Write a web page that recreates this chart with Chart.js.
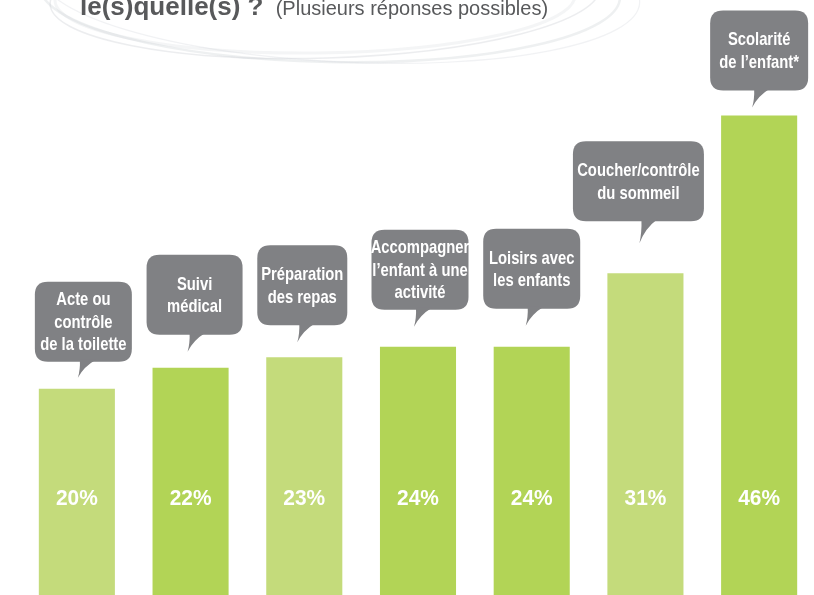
<!DOCTYPE html>
<html><head><meta charset="utf-8">
<script src="https://cdn.jsdelivr.net/npm/chart.js@4"></script>
<style>
html,body{margin:0;padding:0;overflow:hidden;background:#fff;width:814px;height:595px}
#wrap{position:relative;width:816px;height:599px}
</style></head><body><div id="wrap"><canvas id="c"></canvas></div>
<script>
// ---- data ----
const categories = [
  ['Acte ou','contrôle','de la toilette'],
  ['Suivi','médical'],
  ['Préparation','des repas'],
  ['Accompagner','l’enfant à une','activité'],
  ['Loisirs avec','les enfants'],
  ['Coucher/contrôle','du sommeil'],
  ['Scolarité','de l’enfant*']
];
const values = [20, 22, 23, 24, 24, 31, 46];
const valueLabels = ['20%', '22%', '23%', '24%', '24%', '31%', '46%'];
const titleBold = 'le(s)quelle(s) ?';
const titleNote = '(Plusieurs réponses possibles)';

// ---- styles / layout ----
const LIGHT = '#c4db7b', DARK = '#b2d456', GREY = '#808184', TITLE = '#58595b';
const barColors = [LIGHT, DARK, LIGHT, DARK, DARK, LIGHT, DARK];
// per bubble: box width, gap from tail tip to bar top, box centre offset, tail tip offset, tail height
const bubbleLayout = [
  {w:97, gap:11, dx:6.5, tip:1,  th:16},
  {w:96, gap:16, dx:4,   tip:-3, th:17},
  {w:90, gap:15, dx:-2,  tip:-7, th:17},
  {w:97, gap:20, dx:2,   tip:-4, th:17},
  {w:97, gap:21, dx:0,   tip:-6, th:17},
  {w:131,gap:30, dx:-7,  tip:-6, th:22},
  {w:98, gap:8,  dx:0,   tip:-7, th:17}
];
const BOX_H = 80, RADIUS = 13;
const SANS = "'Liberation Sans', Arial, sans-serif";

function roundRect(ctx, x, y, w, h, r) {
  ctx.beginPath();
  ctx.moveTo(x + r, y);
  ctx.lineTo(x + w - r, y);
  ctx.quadraticCurveTo(x + w, y, x + w, y + r);
  ctx.lineTo(x + w, y + h - r);
  ctx.quadraticCurveTo(x + w, y + h, x + w - r, y + h);
  ctx.lineTo(x + r, y + h);
  ctx.quadraticCurveTo(x, y + h, x, y + h - r);
  ctx.lineTo(x, y + r);
  ctx.quadraticCurveTo(x, y, x + r, y);
  ctx.closePath();
}

function narrowText(ctx, t, x, y, sx) {
  ctx.save();
  ctx.translate(x, y);
  ctx.scale(sx, 1);
  ctx.fillText(t, 0, 0);
  ctx.restore();
}

const decor = {
  id: 'decor',
  beforeDraw(chart) {
    const ctx = chart.ctx;
    ctx.save();
    // faint swooshes behind the title
    const arcs = [
      {cx:330, cy:-8, rx:290, ry:70, rot:0.02, lw:2.5, a:0.3},
      {cx:325, cy:-4, rx:275, ry:62, rot:-0.03, lw:1.5, a:0.35},
      {cx:340, cy:-12, rx:300, ry:74, rot:0.05, lw:1.2, a:0.25},
      {cx:315, cy:-2, rx:260, ry:55, rot:-0.01, lw:3, a:0.2}
    ];
    arcs.forEach(a => {
      ctx.beginPath();
      ctx.ellipse(a.cx, a.cy, a.rx, a.ry, a.rot, 0, Math.PI * 2);
      ctx.strokeStyle = 'rgba(200,204,210,' + a.a + ')';
      ctx.lineWidth = a.lw;
      ctx.stroke();
    });
    // title (partially cut at the top)
    ctx.textBaseline = 'alphabetic';
    ctx.textAlign = 'left';
    ctx.fillStyle = TITLE;
    ctx.font = 'bold 26px ' + SANS;
    ctx.fillText(titleBold, 80, 15);
    const w = ctx.measureText(titleBold + ' ').width;
    ctx.font = '20px ' + SANS;
    ctx.fillText(titleNote, 80 + w + 5, 15);
    ctx.restore();
  },
  afterDatasetsDraw(chart) {
    const ctx = chart.ctx;
    const meta = chart.getDatasetMeta(0);
    ctx.save();
    meta.data.forEach((bar, i) => {
      const L = bubbleLayout[i];
      const tipX = bar.x + L.tip;
      const tipY = bar.y - L.gap;
      const boxBottom = tipY - L.th;
      const boxTop = boxBottom - BOX_H;
      const cx = bar.x + L.dx;
      const left = cx - L.w / 2;
      ctx.fillStyle = GREY;
      roundRect(ctx, left, boxTop, L.w, BOX_H, RADIUS);
      ctx.fill();
      // tail
      ctx.beginPath();
      ctx.moveTo(tipX + 2, boxBottom - 2);
      ctx.lineTo(tipX + 18, boxBottom - 2);
      ctx.quadraticCurveTo(tipX + 6, boxBottom + L.th * 0.3, tipX, tipY);
      ctx.quadraticCurveTo(tipX + 2.5, boxBottom + L.th * 0.5, tipX + 2, boxBottom - 2);
      ctx.closePath();
      ctx.fill();
      // text
      const lines = categories[i];
      ctx.fillStyle = '#ffffff';
      ctx.font = 'bold 18.5px ' + SANS;
      ctx.textAlign = 'center';
      ctx.textBaseline = 'middle';
      const lh = 22.5;
      const midY = boxTop + BOX_H / 2 + 1;
      lines.forEach((t, k) => {
        narrowText(ctx, t, cx, midY + (k - (lines.length - 1) / 2) * lh, 0.8);
      });
      // value label
      ctx.font = 'bold 22px ' + SANS;
      narrowText(ctx, valueLabels[i], bar.x, chart.chartArea.bottom - 100, 0.95);
    });
    ctx.restore();
  }
};

new Chart(document.getElementById('c'), {
  type: 'bar',
  data: {
    labels: categories,
    datasets: [{
      data: values,
      backgroundColor: barColors,
      borderWidth: 0,
      categoryPercentage: 1,
      barPercentage: 0.669
    }]
  },
  options: {
    responsive: true,
    maintainAspectRatio: false,
    animation: false,
    layout: {padding: {left: 20, right: 0, top: 0, bottom: 0}},
    plugins: {legend: {display: false}, tooltip: {enabled: false}, title: {display: false}},
    scales: {
      x: {display: false},
      y: {display: false, min: 0, max: 57}
    }
  },
  plugins: [decor]
});
</script></body></html>
